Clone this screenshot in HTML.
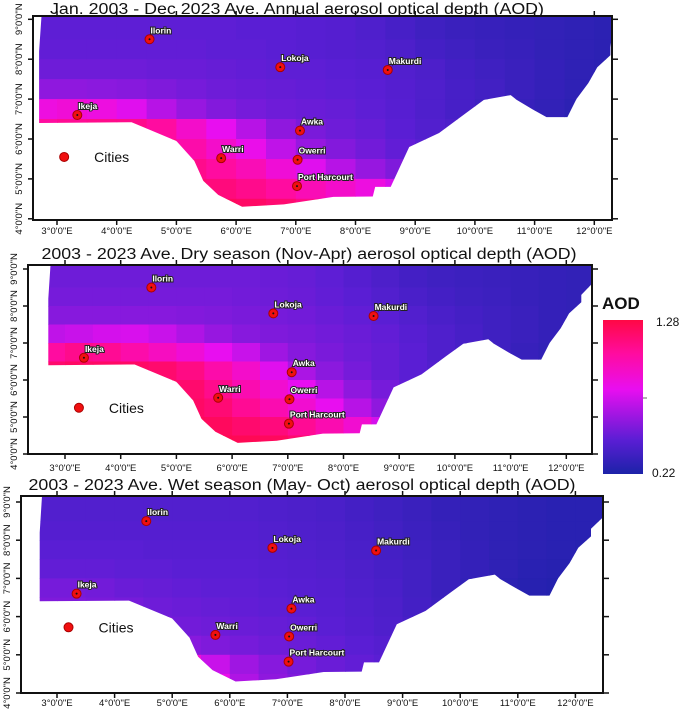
<!DOCTYPE html>
<html><head><meta charset="utf-8">
<style>
html,body{margin:0;padding:0;background:#fff;}
svg{display:block;font-family:"Liberation Sans",Arial,sans-serif;}
.city{font-size:8.5px;font-weight:bold;fill:#fff;stroke:#222;stroke-width:2px;paint-order:stroke;}
.tk{font-size:9.5px;fill:#111;}
.ttl{font-size:15.5px;fill:#111;}
</style></head>
<body>
<svg id="chart" width="685" height="712" viewBox="0 0 685 712">
<defs>
<linearGradient id="lg" x1="0" y1="1" x2="0" y2="0">
<stop offset="0" stop-color="#1c22a8"/><stop offset="0.22" stop-color="#5a1ed4"/>
<stop offset="0.55" stop-color="#e80ef0"/><stop offset="0.78" stop-color="#ff0ca0"/>
<stop offset="1" stop-color="#ff0845"/></linearGradient>
</defs>
<g>
<text x="602" y="309" font-size="17" font-weight="bold" fill="#111">AOD</text>
<rect x="603" y="320" width="40" height="154" fill="url(#lg)"/>
<line x1="643" y1="398" x2="647" y2="398" stroke="#666" stroke-width="1"/>
<text x="656" y="326" font-size="12" fill="#111">1.28</text>
<text x="652" y="477" font-size="12" fill="#111">0.22</text>
</g>
</svg>
<script>
// AOD grids: rows lat centers 8.75..4.25 (0.5 deg), cols lon centers 2.75..12.25
const annualAOD = [
[.46,.46,.46,.46,.46,.46,.46,.45,.45,.44,.43,.41,.38,.35,.33,.32,.31,.30,.29,.28],
[.47,.47,.47,.47,.47,.47,.46,.46,.45,.44,.43,.42,.40,.37,.35,.33,.32,.30,.29,.28],
[.50,.50,.50,.50,.49,.49,.48,.47,.46,.46,.45,.44,.42,.40,.37,.35,.33,.31,.29,.28],
[.58,.58,.57,.56,.54,.52,.50,.49,.48,.47,.46,.45,.43,.41,.38,.36,.33,.31,.29,.28],
[.85,.88,.85,.78,.68,.60,.55,.52,.50,.49,.48,.46,.44,.41,.38,.35,.32,.30,.28,.27],
[1.05,1.08,1.10,1.10,1.05,.92,.80,.68,.58,.53,.50,.48,.45,.42,.40,.37,.34,.31,.29,.28],
[1.10,1.10,1.10,1.10,1.10,1.02,.92,.82,.70,.60,.55,.51,.47,.44,.41,.38,.35,.32,.30,.28],
[1.12,1.12,1.12,1.12,1.12,1.10,1.05,.98,.88,.78,.68,.60,.54,.48,.44,.40,.36,.33,.30,.28],
[1.18,1.18,1.18,1.18,1.18,1.16,1.14,1.10,1.05,.98,.92,.85,.75,.62,.50,.42,.37,.33,.30,.28],
[1.22,1.22,1.22,1.22,1.22,1.22,1.22,1.20,1.17,1.12,1.05,.95,.85,.70,.55,.45,.38,.33,.30,.28]];
const dryAOD = [
[.50,.50,.50,.50,.50,.50,.50,.50,.49,.48,.46,.43,.40,.37,.35,.34,.33,.32,.31,.30],
[.52,.52,.52,.52,.52,.52,.52,.51,.50,.49,.47,.45,.42,.39,.37,.35,.34,.32,.31,.30],
[.56,.56,.56,.56,.56,.55,.54,.53,.52,.51,.49,.47,.45,.42,.39,.37,.35,.33,.31,.30],
[.70,.72,.75,.76,.72,.66,.60,.56,.54,.53,.51,.49,.47,.44,.41,.38,.35,.33,.31,.30],
[1.05,1.10,1.08,1.02,.95,.88,.80,.72,.62,.56,.53,.50,.48,.45,.41,.38,.35,.32,.30,.28],
[1.18,1.20,1.20,1.20,1.18,1.12,1.02,.92,.78,.65,.57,.52,.48,.45,.42,.39,.36,.33,.30,.28],
[1.20,1.20,1.20,1.20,1.20,1.18,1.10,1.00,.90,.80,.68,.58,.52,.47,.43,.39,.36,.33,.30,.28],
[1.22,1.22,1.22,1.22,1.22,1.20,1.16,1.08,1.00,.90,.80,.68,.58,.50,.45,.40,.36,.33,.30,.28],
[1.24,1.24,1.24,1.24,1.24,1.23,1.22,1.18,1.14,1.08,1.00,.90,.75,.62,.50,.42,.37,.33,.30,.28],
[1.26,1.26,1.26,1.26,1.26,1.26,1.25,1.24,1.22,1.18,1.12,1.02,.90,.72,.55,.45,.38,.33,.30,.28]];
const wetAOD = [
[.42,.42,.42,.42,.42,.42,.42,.42,.41,.40,.39,.37,.35,.33,.31,.30,.29,.28,.27,.27],
[.43,.43,.43,.43,.43,.43,.43,.43,.42,.41,.40,.38,.36,.34,.32,.30,.29,.28,.27,.27],
[.45,.45,.45,.45,.44,.44,.44,.44,.43,.42,.41,.39,.37,.35,.33,.31,.29,.28,.27,.26],
[.47,.47,.47,.46,.46,.45,.45,.45,.44,.43,.42,.40,.38,.36,.33,.31,.29,.27,.26,.25],
[.52,.52,.51,.49,.48,.47,.46,.46,.45,.44,.43,.41,.39,.36,.33,.30,.28,.26,.25,.24],
[.54,.54,.53,.52,.50,.49,.48,.47,.46,.45,.44,.42,.40,.37,.34,.31,.29,.27,.25,.24],
[.55,.55,.55,.54,.53,.51,.50,.49,.48,.47,.45,.43,.41,.38,.35,.32,.30,.28,.26,.25],
[.56,.56,.56,.56,.56,.56,.54,.52,.50,.49,.47,.45,.43,.40,.37,.34,.31,.29,.27,.25],
[.60,.60,.60,.60,.60,.88,.72,.62,.56,.52,.49,.47,.45,.42,.38,.35,.32,.29,.27,.25],
[.70,.70,.70,.70,.70,1.05,.82,.66,.58,.54,.51,.48,.46,.43,.39,.36,.33,.30,.28,.26]];
const cityNames = ["Ilorin","Lokoja","Makurdi","Ikeja","Awka","Warri","Owerri","Port Harcourt"];
const cityLon = [4.55,6.74,8.54,3.34,7.07,5.75,7.03,7.02];
const cityLat = [8.50,7.80,7.73,6.60,6.21,5.52,5.48,4.82];
const lonTicks = [3,4,5,6,7,8,9,10,11,12];
const latTicks = [4,5,6,7,8,9];
const borderLon = [2.74,2.70,2.70,4.25,5.0,5.3,5.45,5.7,6.1,6.8,7.63,8.29,8.33,8.59,8.9,9.4,9.85,10.15,10.6,10.7,10.97,11.2,11.55,11.7,11.9,12.05,12.27,12.27,12.6,12.6];
const borderLat = [9.20,8.2,6.40,6.42,5.95,5.45,4.95,4.6,4.3,4.36,4.55,4.56,4.8,4.8,5.8,6.15,6.65,6.98,7.1,6.98,6.74,6.55,6.55,7.0,7.4,7.8,8.1,8.3,8.6,9.2];

const NS="http://www.w3.org/2000/svg";
const svg=document.getElementById('chart');
function mk(tag,attrs,parent){const e=document.createElementNS(NS,tag);for(const k in attrs)e.setAttribute(k,attrs[k]);(parent||svg).appendChild(e);return e;}
const cstops=[[0.22,[28,34,168]],[0.45,[90,30,212]],[0.80,[232,14,240]],[1.05,[255,12,160]],[1.28,[255,8,69]]];
function color(v){if(v<=cstops[0][0])return 'rgb('+cstops[0][1]+')';for(let i=1;i<cstops.length;i++){if(v<=cstops[i][0]){const a=cstops[i-1],b=cstops[i];const t=(v-a[0])/(b[0]-a[0]);return 'rgb('+a[1].map((c,j)=>Math.round(c+(b[1][j]-c)*t)).join(',')+')';}}return 'rgb('+cstops[cstops.length-1][1]+')';}

const panels=[
 {id:'annual',grid:annualAOD,title:'Jan. 2003 - Dec 2023 Ave. Annual aerosol optical depth (AOD)',tx:297,ty:14,tw:494,x3:57,dx:59.7,y9:19.3,dy:39.9,f:[33,16,612,220],xl:234,leg:[3.12,5.55]},
 {id:'dry',grid:dryAOD,title:'2003 - 2023 Ave. Dry season (Nov-Apr) aerosol optical depth (AOD)',tx:309,ty:259,tw:535,x3:65,dx:55.7,y9:269,dy:37,f:[28,265,592,454],xl:471,leg:[3.25,5.25]},
 {id:'wet',grid:wetAOD,title:'2003 - 2023 Ave. Wet season (May- Oct) aerosol optical depth (AOD)',tx:302,ty:490,tw:547,x3:57,dx:57.6,y9:502,dy:38.2,f:[21,496,603,693],xl:706,leg:[3.2,5.72]}];

panels.forEach(p=>{
 const X=lon=>p.x3+(lon-3)*p.dx, Y=lat=>p.y9+(9-lat)*p.dy;
 const g=mk('g',{});
 
 
 const t=mk('text',{x:p.tx,y:p.ty,'text-anchor':'middle',class:'ttl',textLength:p.tw,lengthAdjust:'spacingAndGlyphs'},g);
 t.textContent=p.title;
 
 
 const [fx0,fy0,fx1,fy1]=p.f;
 const cp=mk('clipPath',{id:'clip-'+p.id},g);
 const pts=borderLon.map((lo,i)=>Math.max(fx0,Math.min(fx1,X(lo))).toFixed(1)+','+Math.max(fy0,Math.min(fy1,Y(borderLat[i]))).toFixed(1)).join(' ');
 mk('polygon',{points:pts},cp);
 const cells=mk('g',{'clip-path':'url(#clip-'+p.id+')'},g);
 
 
 p.grid.forEach((row,r)=>{
  const latTop=(r===0)?9.3:9-r*0.5, latBot=9-(r+1)*0.5;
  row.forEach((v,c)=>{
   const lonL=2.5+c*0.5;
   const x0=X(lonL), x1=X(lonL+0.5)+0.5;
   const rc=mk('rect',{x:x0.toFixed(1),y:Y(latTop).toFixed(1),width:(x1-x0).toFixed(1),height:(Y(latBot)-Y(latTop)+0.5).toFixed(1),fill:color(v)},cells);
   
   
  });
 });
 const fr=mk('rect',{x:fx0,y:fy0,width:fx1-fx0,height:fy1-fy0,fill:'none',stroke:'#111','stroke-width':2},g);
 
 
 lonTicks.forEach(lo=>{
  const x=X(lo);
  mk('line',{x1:x,y1:fy1,x2:x,y2:fy1+5,stroke:'#111','stroke-width':1.5},g);
  mk('line',{x1:x,y1:fy0,x2:x,y2:fy0-5,stroke:'#111','stroke-width':1.5},g);
  const tx=mk('text',{x:x,y:p.xl,'text-anchor':'middle',class:'tk'},g);
  tx.textContent=lo+'°0\'0"E';
  
  
 });
 latTicks.forEach(la=>{
  const y=Y(la);
  mk('line',{x1:fx0,y1:y,x2:fx0-5,y2:y,stroke:'#111','stroke-width':1.5},g);
  mk('line',{x1:fx1,y1:y,x2:fx1+6,y2:y,stroke:'#111','stroke-width':1.5},g);
  const tx=mk('text',{x:0,y:0,'text-anchor':'middle',class:'tk',transform:'translate('+(fx0-11)+','+y+') rotate(-90)'},g);
  tx.textContent=la+'°0\'0"N';
  
  
 });
 cityNames.forEach((n,i)=>{
  const cx=X(cityLon[i]), cy=Y(cityLat[i]);
  const cg=mk('g',{},g);
  
  
  mk('circle',{cx:cx,cy:cy,r:4.5,fill:'#f01010',stroke:'#a00','stroke-width':1},cg);
  mk('circle',{cx:cx,cy:cy,r:1,fill:'#111'},cg);
  const lt=mk('text',{x:cx+1,y:cy-6,class:'city'},cg);
  lt.textContent=n;
 });
 const lg=mk('g',{},g);
 
 
 mk('circle',{cx:X(p.leg[0]),cy:Y(p.leg[1]),r:4.5,fill:'#f01010',stroke:'#a00','stroke-width':1},lg);
 const ct=mk('text',{x:X(p.leg[0])+30,y:Y(p.leg[1])+5,'font-size':'14',fill:'#111'},lg);
 ct.textContent='Cities';
});
</script>
</body></html>
